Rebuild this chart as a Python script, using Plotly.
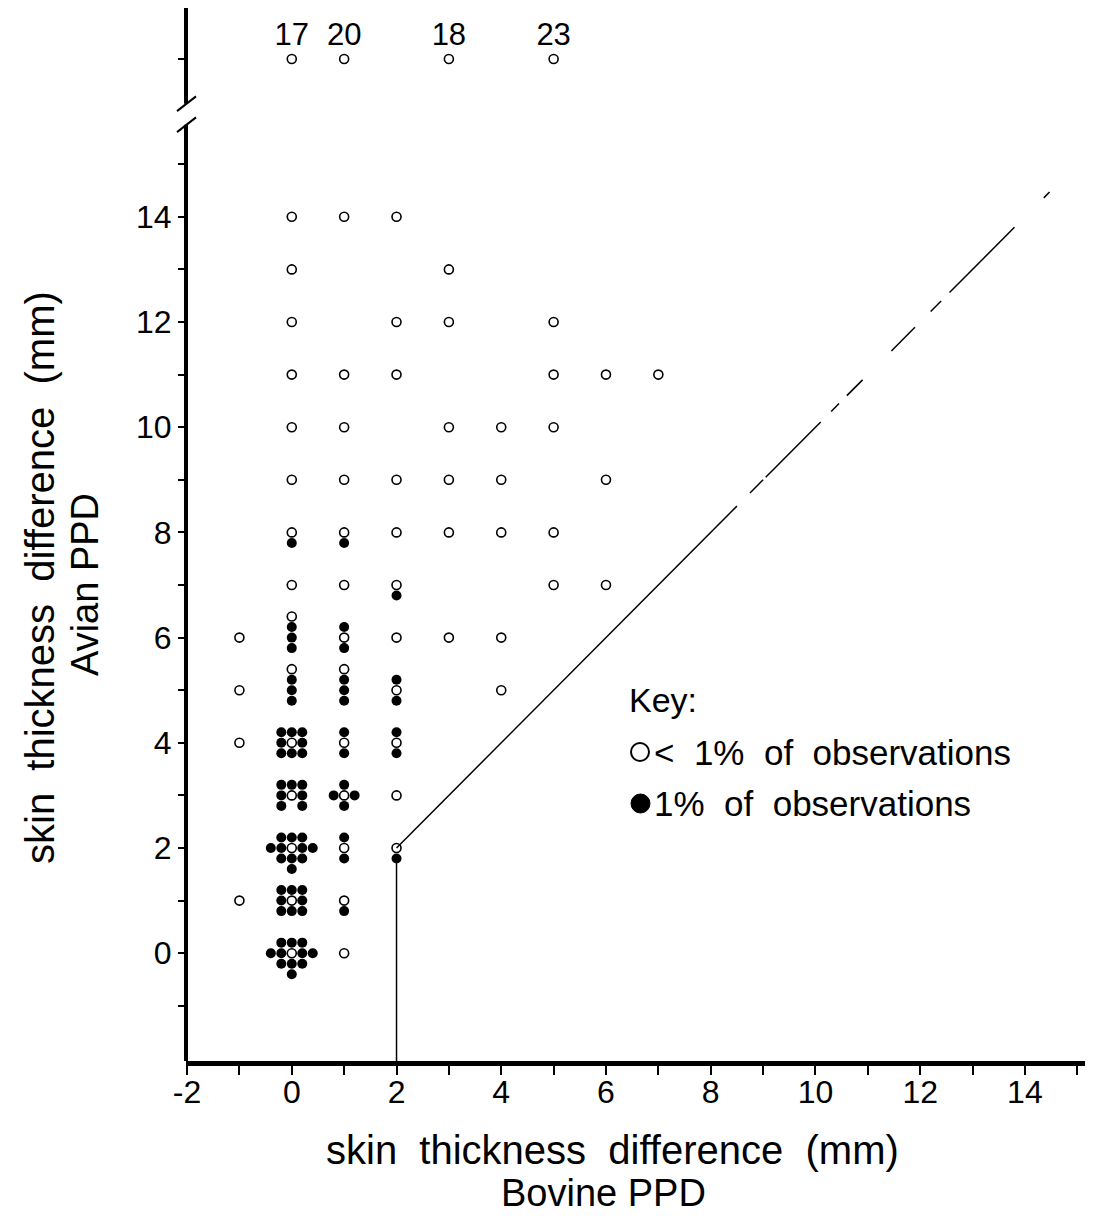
import plotly.graph_objects as go

# ---------------- data ----------------
# open circles: < 1% of observations (bovine x, avian y)
OPEN_X = [0, 1, 2,
          0, 3,
          0, 2, 3, 5,
          0, 1, 2, 5, 6, 7,
          0, 1, 3, 4, 5,
          0, 1, 2, 3, 4, 6,
          0, 1, 2, 3, 4, 5,
          0, 1, 2, 5, 6,
          -1, 0, 1, 2, 3, 4,
          -1, 0, 1, 2, 4,
          -1, 0, 1, 2,
          0, 1, 2,
          0, 1, 2,
          -1, 0, 1,
          0, 1]
OPEN_Y = [14, 14, 14,
          13, 13,
          12, 12, 12, 12,
          11, 11, 11, 11, 11, 11,
          10, 10, 10, 10, 10,
          9, 9, 9, 9, 9, 9,
          8, 8, 8, 8, 8, 8,
          7, 7, 7, 7, 7,
          6, 6.4, 6, 6, 6, 6,
          5, 5.4, 5.4, 5, 5,
          4, 4, 4, 4,
          3, 3, 3,
          2, 2, 2,
          1, 1, 1,
          0, 0]

# filled dots: each = 1% of observations
FILLED_X = [
    # cell (0,0)
    -0.2, 0, 0.2, -0.4, -0.2, 0.2, 0.4, -0.2, 0, 0.2, 0,
    # cell (0,1)
    -0.2, 0, 0.2, -0.2, 0.2, -0.2, 0, 0.2,
    # cell (0,2)
    -0.2, 0, 0.2, -0.4, -0.2, 0.2, 0.4, -0.2, 0, 0.2, 0,
    # cell (0,3)
    -0.2, 0, 0.2, -0.2, 0.2, -0.2, 0.2,
    # cell (0,4)
    -0.2, 0, 0.2, -0.2, 0.2, -0.2, 0, 0.2,
    # cells (0,5), (0,6), (0,8)
    0, 0, 0, 0, 0, 0, 0,
    # bovine 1
    1, 1, 1, 1, 0.8, 1.2, 1, 1, 1, 1, 1, 1, 1, 1, 1,
    # bovine 2
    2, 2, 2, 2, 2, 2,
]
FILLED_Y = [
    0.2, 0.2, 0.2, 0, 0, 0, 0, -0.2, -0.2, -0.2, -0.4,
    1.2, 1.2, 1.2, 1, 1, 0.8, 0.8, 0.8,
    2.2, 2.2, 2.2, 2, 2, 2, 2, 1.8, 1.8, 1.8, 1.6,
    3.2, 3.2, 3.2, 3, 3, 2.8, 2.8,
    4.2, 4.2, 4.2, 4, 4, 3.8, 3.8, 3.8,
    5.2, 5.0, 4.8, 6.2, 6.0, 5.8, 7.8,
    0.8, 2.2, 1.8, 3.2, 3, 3, 2.8, 4.2, 3.8, 5.2, 5.0, 4.8, 6.2, 5.8, 7.8,
    1.8, 4.2, 3.8, 5.2, 4.8, 6.8,
]

# off-scale values (above the axis break)
OFF_X = [0, 1, 3, 5]
OFF_VALUES = [17, 20, 18, 23]
BREAK_Y = 17

# decision boundary: vertical at bovine = 2, then avian = bovine
VERT_X = [2, 2]
VERT_Y = [-2.05, 1.8]
DIAG_SEGMENTS = [(2, 8.5), (8.75, 9.0), (9.05, 10.1), (10.3, 10.45), (10.6, 10.9),
                 (11.45, 11.9), (12.2, 12.4), (12.56, 13.8), (14.36, 14.47)]

X_TICKS = list(range(-2, 16))
X_LABELS = [str(v) if v % 2 == 0 and v <= 14 else "" for v in X_TICKS]
Y_TICKS = list(range(-1, 16)) + [17]
Y_LABELS = [str(v) if (v % 2 == 0 and 0 <= v <= 14) else "" for v in Y_TICKS]

# ---------------- figure ----------------
OFF = 8                      # page body margin
W, H = 1085, 1216
ML, MR, MT, MB = 178, 0, 0, 163
XR = [-2.02, 15.3]
YR = [-2.05, 17.97]
FONT = "Liberation Sans, Arial, Helvetica, sans-serif"
NB = "\u00a0"


def px2paper_x(px):          # px: page coordinate
    return (px - OFF - ML) / (W - ML - MR)


def px2paper_y(py):
    return (H - MB - (py - OFF)) / (H - MT - MB)


def ypaper(v):
    return (v - YR[0]) / (YR[1] - YR[0])


fig = go.Figure()

# boundary lines
fig.add_trace(go.Scatter(x=VERT_X, y=VERT_Y, mode="lines",
                         line=dict(color="black", width=1.5),
                         showlegend=False, hoverinfo="skip"))
dx, dy = [], []
for a, b in DIAG_SEGMENTS:
    dx += [a, b, None]
    dy += [a, b, None]
fig.add_trace(go.Scatter(x=dx, y=dy, mode="lines",
                         line=dict(color="black", width=1.5),
                         showlegend=False, hoverinfo="skip"))

# filled dots
fig.add_trace(go.Scatter(x=FILLED_X, y=FILLED_Y, mode="markers",
                         marker=dict(symbol="circle", size=10, color="black",
                                     line=dict(width=0)),
                         showlegend=False))
# open circles
fig.add_trace(go.Scatter(x=OPEN_X, y=OPEN_Y, mode="markers",
                         marker=dict(symbol="circle-open", size=9, color="black",
                                     line=dict(width=1.6)),
                         showlegend=False))
# off-scale points with their values
fig.add_trace(go.Scatter(x=OFF_X, y=[BREAK_Y] * len(OFF_X), mode="markers+text",
                         text=[str(v) for v in OFF_VALUES],
                         textposition="top center",
                         textfont=dict(family=FONT, size=31, color="black"),
                         marker=dict(symbol="circle-open", size=9, color="black",
                                     line=dict(width=1.6)),
                         showlegend=False, cliponaxis=False))

shapes = []
# y axis line with break
lw = 4
shapes.append(dict(type="line", xref="paper", yref="paper", x0=0, x1=0,
                   y0=0, y1=ypaper(15.75), line=dict(color="black", width=lw)))
shapes.append(dict(type="line", xref="paper", yref="paper", x0=0, x1=0,
                   y0=ypaper(16.15), y1=1, line=dict(color="black", width=lw)))
for yc in (15.75, 16.15):
    shapes.append(dict(type="line", xref="paper", yref="paper",
                       x0=px2paper_x(177), x1=px2paper_x(196),
                       y0=ypaper(yc) - 0.007, y1=ypaper(yc) + 0.007,
                       line=dict(color="black", width=2)))

# key symbols
shapes.append(dict(type="circle", xref="paper", yref="paper",
                   x0=px2paper_x(631), x1=px2paper_x(649),
                   y0=px2paper_y(761), y1=px2paper_y(743),
                   line=dict(color="black", width=2), fillcolor="white"))
shapes.append(dict(type="circle", xref="paper", yref="paper",
                   x0=px2paper_x(631), x1=px2paper_x(650),
                   y0=px2paper_y(813), y1=px2paper_y(794),
                   line=dict(color="black", width=1), fillcolor="black"))

title1 = (NB * 2).join(["skin", "thickness", "difference", "(mm)"])
annotations = [
    dict(text="Key:", x=px2paper_x(627), y=px2paper_y(700), xref="paper", yref="paper",
         xanchor="left", yanchor="middle", showarrow=False,
         font=dict(family=FONT, size=34, color="black")),
    dict(text="<" + NB * 2 + "1%" + NB * 2 + "of" + NB * 2 + "observations",
         x=px2paper_x(652), y=px2paper_y(752),
         xref="paper", yref="paper", xanchor="left", yanchor="middle", showarrow=False,
         font=dict(family=FONT, size=35, color="black")),
    dict(text="1%" + NB * 2 + "of" + NB * 2 + "observations", x=px2paper_x(652),
         y=px2paper_y(803),
         xref="paper", yref="paper", xanchor="left", yanchor="middle", showarrow=False,
         font=dict(family=FONT, size=35, color="black")),
    # x axis title
    dict(text=title1, x=px2paper_x(612), y=px2paper_y(1150), xref="paper", yref="paper",
         xanchor="center", yanchor="middle", showarrow=False,
         font=dict(family=FONT, size=40, color="black")),
    dict(text="Bovine PPD", x=px2paper_x(603), y=px2paper_y(1193), xref="paper",
         yref="paper", xanchor="center", yanchor="middle", showarrow=False,
         font=dict(family=FONT, size=38, color="black")),
    # y axis title
    dict(text=title1, x=px2paper_x(40), y=px2paper_y(578), xref="paper", yref="paper",
         xanchor="center", yanchor="middle", showarrow=False, textangle=-90,
         font=dict(family=FONT, size=40, color="black")),
    dict(text="Avian PPD", x=px2paper_x(85), y=px2paper_y(585), xref="paper",
         yref="paper", xanchor="center", yanchor="middle", showarrow=False,
         textangle=-90, font=dict(family=FONT, size=38, color="black")),
]

fig.update_layout(
    width=W, height=H,
    margin=dict(l=ML, r=MR, t=MT, b=MB, pad=0),
    plot_bgcolor="white", paper_bgcolor="white",
    shapes=shapes, annotations=annotations,
    showlegend=False,
    font=dict(family=FONT, color="black"),
)
fig.update_xaxes(range=XR, tickmode="array", tickvals=X_TICKS, ticktext=X_LABELS,
                 ticks="outside", ticklen=9, tickwidth=2, tickcolor="black",
                 ticklabelstandoff=-10,
                 showline=True, linewidth=5, linecolor="black",
                 showgrid=False, zeroline=False,
                 tickfont=dict(family=FONT, size=32, color="black"))
fig.update_yaxes(range=YR, tickmode="array", tickvals=Y_TICKS, ticktext=Y_LABELS,
                 ticks="outside", ticklen=7, tickwidth=2, tickcolor="black",
                 showline=False, showgrid=False, zeroline=False,
                 tickfont=dict(family=FONT, size=32, color="black"))

fig.write_html("out.html")
